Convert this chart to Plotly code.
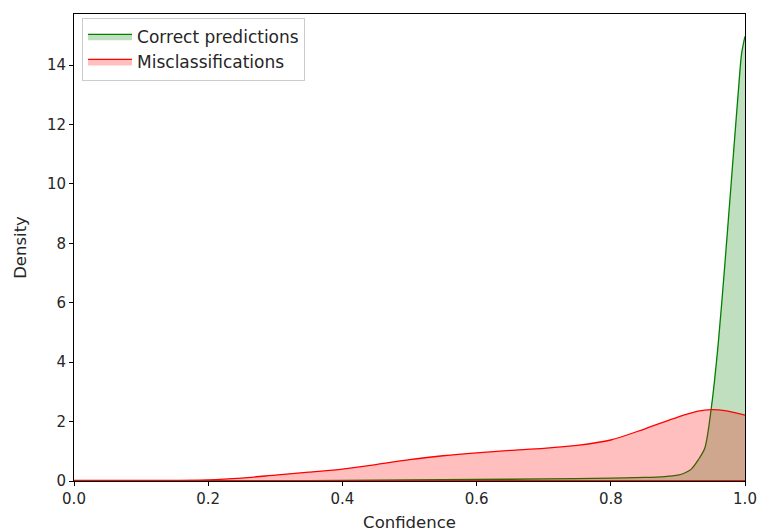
import plotly.graph_objects as go

# Correct predictions density (KDE)
correct_conf = [0.0, 0.2, 0.3, 0.4, 0.5, 0.6, 0.7, 0.8, 0.85, 0.88, 0.9, 0.91, 0.92, 0.93,
                0.94, 0.95, 0.96, 0.97, 0.98, 0.99, 0.995, 1.0]
correct_density = [0.0, 0.0, 0.005, 0.02, 0.04, 0.05, 0.07, 0.1, 0.12, 0.15, 0.2, 0.27, 0.4, 0.7,
                   1.1, 2.5, 4.6, 7.3, 10.2, 13.1, 14.4, 14.97]

# Misclassifications density
mis_conf = [0.0, 0.1, 0.2, 0.25, 0.3, 0.35, 0.4, 0.45, 0.5, 0.55, 0.6, 0.65, 0.7, 0.75,
            0.8, 0.85, 0.9, 0.93, 0.95, 0.97, 1.0]
mis_density = [0.02, 0.02, 0.04, 0.1, 0.2, 0.3, 0.4, 0.55, 0.72, 0.85, 0.95, 1.03, 1.1, 1.2,
               1.38, 1.75, 2.15, 2.35, 2.4, 2.37, 2.22]

x_ticks = [0.0, 0.2, 0.4, 0.6, 0.8, 1.0]
y_ticks = [0, 2, 4, 6, 8, 10, 12, 14]

fig = go.Figure()
series = [
    ("Correct predictions", correct_conf, correct_density, "green", "rgba(0,128,0,0.25)"),
    ("Misclassifications", mis_conf, mis_density, "red", "rgba(255,0,0,0.25)"),
]
for name, xs, ys, col, fillc in series:
    fig.add_trace(go.Scatter(x=xs, y=ys, mode="lines", fill="tozeroy",
                             fillcolor=fillc,
                             line=dict(color=col, width=1.3, shape="spline", smoothing=0.8),
                             name=name))
for name, xs, ys, col, fillc in series:
    fig.add_trace(go.Scatter(x=[xs[0], xs[-1]], y=[0, 0], mode="lines",
                             line=dict(color=col, width=1.5), showlegend=False,
                             hoverinfo="skip"))

axis_common = dict(showline=True, linecolor="black", linewidth=1, mirror=True,
                   ticks="outside", ticklen=4, tickcolor="black", showgrid=False,
                   zeroline=False, automargin=False, ticklabeloverflow="allow",
                   tickfont=dict(size=15, color="#262626"))
fig.update_xaxes(range=[0, 1], tickvals=x_ticks, tickformat=".1f",
                 title=dict(text="Confidence", font=dict(size=16.5, color="#262626"), standoff=11),
                 **axis_common)
fig.update_yaxes(range=[0, 15.72], tickvals=y_ticks,
                 title=dict(text="Density", font=dict(size=16.5, color="#262626"), standoff=16),
                 **axis_common)

fig.update_layout(
    width=757, height=532,
    margin=dict(l=74, r=12, t=14, b=51),
    paper_bgcolor="white", plot_bgcolor="white",
    font=dict(family="DejaVu Sans", size=15, color="#262626"),
    legend=dict(x=0.012, y=0.992, xanchor="left", yanchor="top",
                bgcolor="rgba(255,255,255,0.8)", bordercolor="#cccccc", borderwidth=1,
                font=dict(size=17), tracegroupgap=0, itemwidth=44),
)

fig.write_html(
    "out.html",
    config={"displayModeBar": False},
    post_script="document.body.style.margin='0';document.documentElement.style.overflow='hidden';document.body.style.overflow='hidden';",
)
